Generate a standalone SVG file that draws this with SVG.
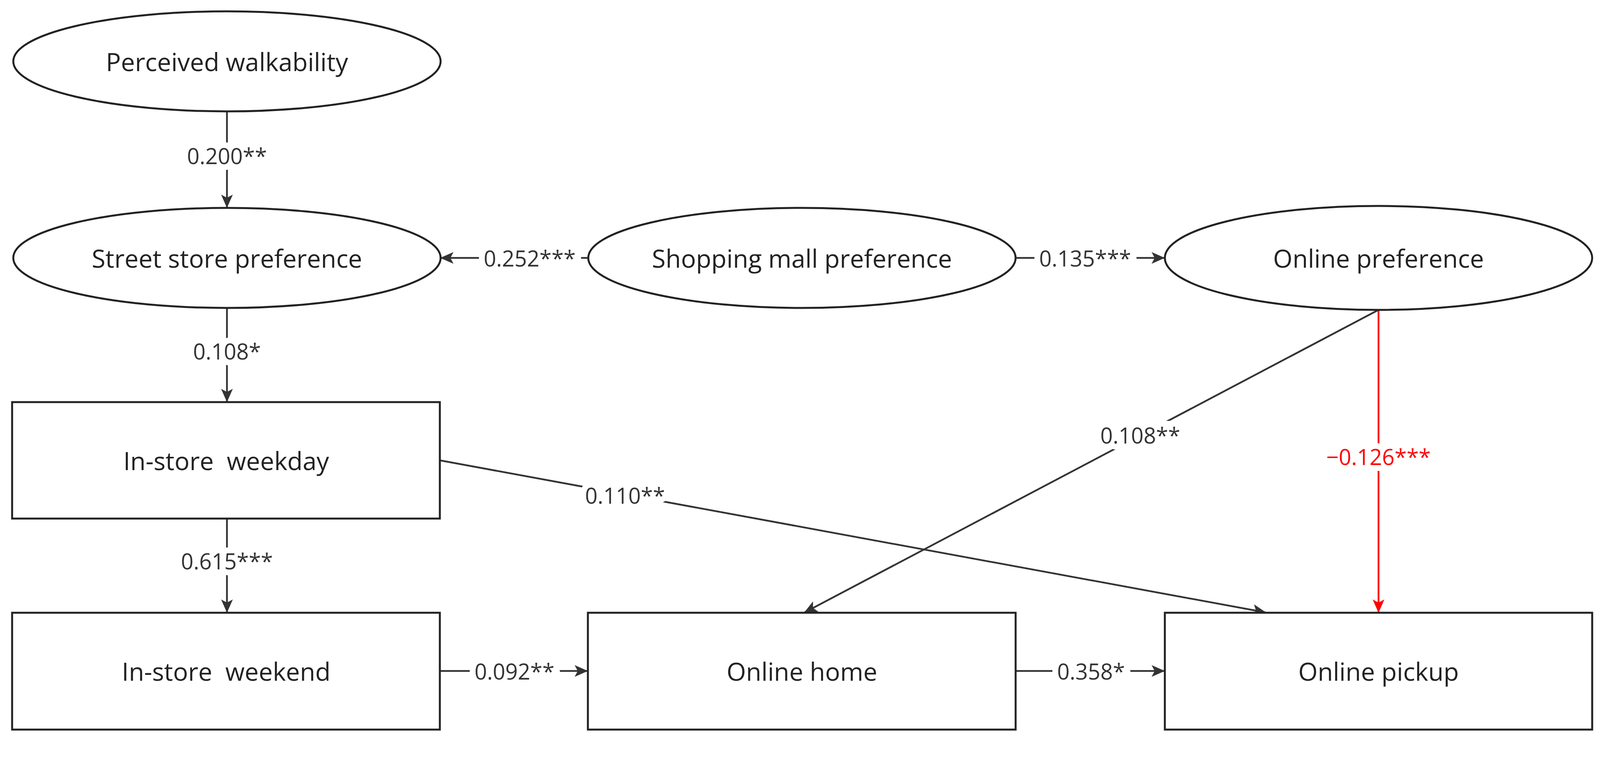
<svg xmlns="http://www.w3.org/2000/svg" width="4307" height="1996" viewBox="0 0 4307 1996">
<style>
.n{fill:#fff;stroke:#222;stroke-width:5}
.t{font-family:"Open Sans",sans-serif;font-size:64px;fill:#222;text-anchor:middle;dominant-baseline:central}
.l{font-family:"Open Sans",sans-serif;font-size:56px;fill:#333;text-anchor:middle;dominant-baseline:central;stroke:#fff;stroke-width:30px;paint-order:stroke}
.c{stroke:#333;stroke-width:4.5;fill:none;marker-end:url(#a)}
.r{stroke:#f00;stroke-width:4.5;fill:none;marker-end:url(#ar)}
</style>
<defs>
<marker id="a" markerWidth="34" markerHeight="30" refX="32" refY="15" orient="auto" markerUnits="userSpaceOnUse" viewBox="0 0 34 30"><path d="M0,0 L34,15 L0,30 L8,15 Z" fill="#333"/></marker>
<marker id="ar" markerWidth="34" markerHeight="30" refX="32" refY="15" orient="auto" markerUnits="userSpaceOnUse" viewBox="0 0 34 30"><path d="M0,0 L34,15 L0,30 L8,15 Z" fill="#f00"/></marker>
</defs>
<rect width="4307" height="1996" fill="#fff"/>
<g id="connectors">
<line class="c" x1="581" y1="285" x2="581" y2="530"/>
<line class="c" x1="581" y1="788" x2="581" y2="1027"/>
<line class="c" x1="581" y1="1327" x2="581" y2="1566"/>
<line class="c" x1="1505" y1="660" x2="1129" y2="660"/>
<line class="c" x1="2600" y1="660" x2="2980" y2="660"/>
<line class="c" x1="1126" y1="1717" x2="1503" y2="1717"/>
<line class="c" x1="2600" y1="1717" x2="2980" y2="1717"/>
<line class="c" x1="3529" y1="793" x2="2060" y2="1567"/>
<line class="r" x1="3529" y1="793" x2="3529" y2="1566"/>
<line class="c" x1="1126" y1="1178" x2="3239" y2="1567"/>
<text class="l" x="581" y="398">0.200**</text>
<text class="l" x="581" y="898">0.108*</text>
<text class="l" x="581" y="1435">0.615***</text>
<text class="l" x="1356" y="660">0.252***</text>
<text class="l" x="2778" y="660">0.135***</text>
<text class="l" x="1317" y="1717">0.092**</text>
<text class="l" x="2793" y="1717">0.358*</text>
<text class="l" x="2919" y="1113">0.108**</text>
<text class="l" x="3529" y="1168" style="fill:#f00">−0.126***</text>
<text class="l" x="1600" y="1267">0.110**</text>
</g>
<g id="perceived"><ellipse class="n" cx="581" cy="157" rx="547" ry="128"/><text class="t" x="581" y="157">Perceived walkability</text></g>
<g id="street"><ellipse class="n" cx="581" cy="660" rx="547" ry="128"/><text class="t" x="581" y="660">Street store preference</text></g>
<g id="mall"><ellipse class="n" cx="2053" cy="660" rx="547" ry="128"/><text class="t" x="2053" y="660">Shopping mall preference</text></g>
<g id="onlinepref"><ellipse class="n" cx="3529" cy="660" rx="547" ry="133"/><text class="t" x="3529" y="660">Online preference</text></g>
<g id="weekday"><rect class="n" x="31" y="1029" width="1095" height="298"/><text class="t" x="579" y="1178" xml:space="preserve">In-store  weekday</text></g>
<g id="weekend"><rect class="n" x="31" y="1568" width="1095" height="299"/><text class="t" x="579" y="1717" xml:space="preserve">In-store  weekend</text></g>
<g id="home"><rect class="n" x="1505" y="1568" width="1095" height="299"/><text class="t" x="2053" y="1717">Online home</text></g>
<g id="pickup"><rect class="n" x="2982" y="1568" width="1094" height="299"/><text class="t" x="3529" y="1717">Online pickup</text></g>
</svg>
